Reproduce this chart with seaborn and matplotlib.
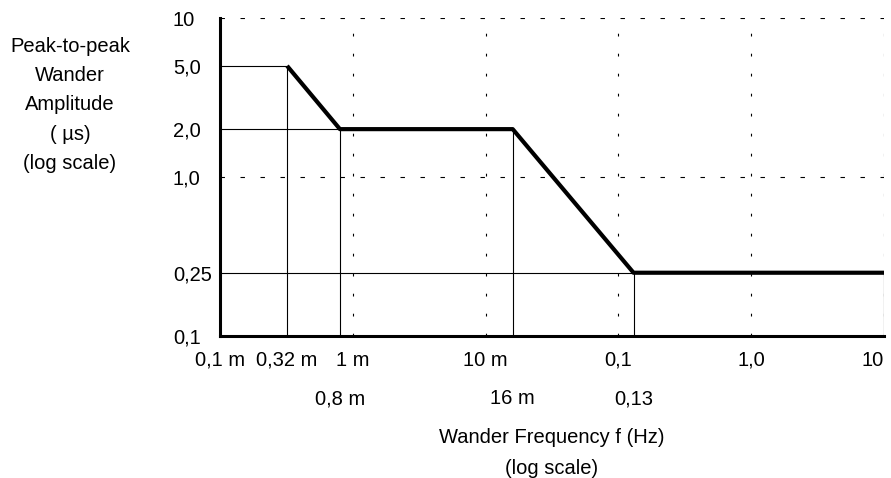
import matplotlib
matplotlib.use("Agg")
import matplotlib.pyplot as plt
from matplotlib.ticker import FixedLocator, FixedFormatter, NullLocator
import seaborn as sns
import pandas as pd

# Wander tolerance mask: breakpoints (frequency in Hz, amplitude in µs)
mask_freq = [3.2e-4, 8e-4, 0.016, 0.13, 10]
mask_amp = [5.0, 2.0, 2.0, 0.25, 0.25]

# Axis ticks and their labels
x_major = [1e-4, 3.2e-4, 1e-3, 1e-2, 0.1, 1.0, 10]
x_major_labels = ["0,1 m", "0,32 m", "1 m", "10 m", "0,1", "1,0", "10"]
x_second_row = [8e-4, 0.016, 0.13]
x_second_labels = ["0,8 m", "16 m", "0,13"]
y_ticks = [0.1, 0.25, 1.0, 2.0, 5.0, 10]
y_labels = ["0,1", "0,25", "1,0", "2,0", "5,0", "10"]

# Decade grid lines
grid_x = [1e-3, 1e-2, 0.1, 1.0, 10]
grid_y = [1.0, 10]

FS = 14.5

sns.set_style("white")
plt.rcParams["font.family"] = ["Liberation Sans", "DejaVu Sans"]
plt.rcParams["text.color"] = "black"
plt.rcParams["xtick.color"] = "black"
plt.rcParams["ytick.color"] = "black"
plt.rcParams["xtick.labelcolor"] = "black"
plt.rcParams["ytick.labelcolor"] = "black"

fig = plt.figure(figsize=(8.91, 4.78), dpi=100)
ax = fig.add_axes([220 / 891, 1 - 336 / 478, 664 / 891, 318 / 478])
ax.set_xscale("log")
ax.set_yscale("log")
ax.set_xlim(1e-4, 10)
ax.set_ylim(0.1, 10)

# dashed decade grid
ax.vlines(grid_x, 0.1, 10, colors="black", linewidth=0.8,
          linestyles=[(0, (2.5, 15.5))], zorder=1)
ax.hlines(grid_y, 1e-4, 10, colors="black", linewidth=0.8,
          linestyles=[(0, (4, 14))], zorder=1)

# thin drop lines from each breakpoint to the axes
ax.vlines(mask_freq, 0.1, mask_amp, colors="black", linewidth=0.8, zorder=2)
seen = set()
for f, a in zip(mask_freq, mask_amp):
    if a not in seen:
        ax.hlines(a, 1e-4, f, colors="black", linewidth=0.8, zorder=2)
        seen.add(a)

df = pd.DataFrame({"freq": mask_freq, "amp": mask_amp})
sns.lineplot(data=df, x="freq", y="amp", sort=False, color="black",
             linewidth=3.0, ax=ax, zorder=3, solid_capstyle="butt")

ax.xaxis.set_major_locator(FixedLocator(x_major))
ax.xaxis.set_major_formatter(FixedFormatter(x_major_labels))
ax.xaxis.set_minor_locator(FixedLocator(x_second_row))
ax.xaxis.set_minor_formatter(FixedFormatter(x_second_labels))
ax.yaxis.set_major_locator(FixedLocator(y_ticks))
ax.yaxis.set_major_formatter(FixedFormatter(y_labels))
ax.yaxis.set_minor_locator(NullLocator())

ax.tick_params(axis="x", which="both", length=0, labelsize=FS,
               labelcolor="black")
ax.tick_params(axis="x", which="major", pad=10.5)
ax.tick_params(axis="x", which="minor", pad=38.5)
ax.tick_params(axis="y", length=0, pad=34, labelsize=FS, labelcolor="black")
for lbl in ax.get_yticklabels():
    lbl.set_horizontalalignment("left")
ax.get_xticklabels()[-1].set_horizontalalignment("right")

ax.set_xlabel("")
ax.set_ylabel("")
for side in ("top", "right"):
    ax.spines[side].set_visible(False)
for side in ("left", "bottom"):
    ax.spines[side].set_linewidth(2.2)
    ax.spines[side].set_color("black")
    ax.spines[side].set_zorder(4)

fig.text(70 / 891, 1 - 105 / 478,
         "Peak-to-peak\nWander\nAmplitude\n( µs)\n(log scale)",
         ha="center", va="center", fontsize=FS, linespacing=1.68,
         color="black")
fig.text(552 / 891, 1 - 453 / 478, "Wander Frequency f (Hz)\n(log scale)",
         ha="center", va="center", fontsize=FS, linespacing=1.85,
         color="black")

fig.savefig("out.png", dpi=100, facecolor="white")
